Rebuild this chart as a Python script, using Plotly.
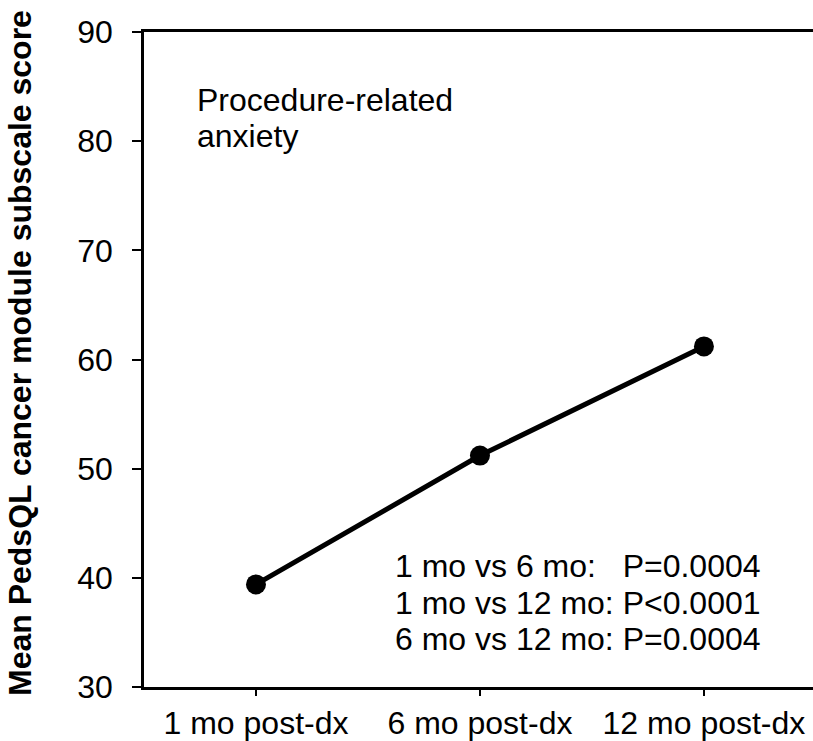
import plotly.graph_objects as go

categories = ["1 mo post-dx", "6 mo post-dx", "12 mo post-dx"]
scores = [39.4, 51.2, 61.2]
y_ticks = [30, 40, 50, 60, 70, 80, 90]
y_title = "Mean PedsQL cancer module subscale score"
panel_label_lines = ["Procedure-related", "anxiety"]
stats_lines = ["1 mo vs 6 mo:   P=0.0004", "1 mo vs 12 mo: P<0.0001", "6 mo vs 12 mo: P=0.0004"]

FONT = "Liberation Sans, Arial, sans-serif"
FS = 32
W, H = 813, 741
L, R, T, B = 144, 0, 32, 54
PW, PH = W - L - R, H - T - B


def px_x(px):
    return (px - L) / PW


def px_y(py):
    return 1 - (py - T) / PH


fig = go.Figure()
fig.add_trace(go.Scatter(
    x=list(range(len(categories))), y=scores, mode="lines+markers",
    line=dict(color="black", width=5),
    marker=dict(color="black", size=20),
    showlegend=False, cliponaxis=False,
))

fig.update_layout(
    width=W, height=H,
    margin=dict(l=L, r=R, t=T, b=B),
    plot_bgcolor="white", paper_bgcolor="white",
    font=dict(family=FONT, size=FS, color="black"),
    xaxis=dict(
        range=[-0.5, 2.487], tickmode="array",
        tickvals=list(range(len(categories))), ticktext=categories,
        showline=True, linecolor="black", linewidth=2.5, mirror=True,
        ticks="outside", ticklen=6, tickwidth=2, tickcolor="black",
        showgrid=False, zeroline=False,
        tickfont=dict(size=FS, family=FONT),
    ),
    yaxis=dict(
        range=[30, 90], tickmode="array", tickvals=y_ticks,
        showline=True, linecolor="black", linewidth=2.5,
        ticks="outside", ticklen=9, tickwidth=2, tickcolor="black",
        ticklabelstandoff=13,
        showgrid=False, zeroline=False,
        tickfont=dict(size=FS, family=FONT),
    ),
)

fig.add_annotation(
    text="<b>" + y_title + "</b>", textangle=-90,
    xref="paper", yref="paper", x=px_x(20), y=px_y(353),
    xanchor="center", yanchor="middle", showarrow=False,
    font=dict(size=FS, family=FONT),
)
for i, line in enumerate(panel_label_lines):
    fig.add_annotation(
        text=line, align="left",
        xref="paper", yref="paper", x=px_x(195), y=px_y(100 + 36 * i),
        xanchor="left", yanchor="middle", showarrow=False,
        font=dict(size=FS, family=FONT),
    )
for i, line in enumerate(stats_lines):
    fig.add_annotation(
        text=line, align="left",
        xref="paper", yref="paper", x=px_x(393), y=px_y(566 + 36.5 * i),
        xanchor="left", yanchor="middle", showarrow=False,
        font=dict(size=FS, family=FONT),
    )

fig.write_html("out.html", config={"displayModeBar": False},
               post_script="document.body.style.margin='0';document.body.style.padding='0';")
